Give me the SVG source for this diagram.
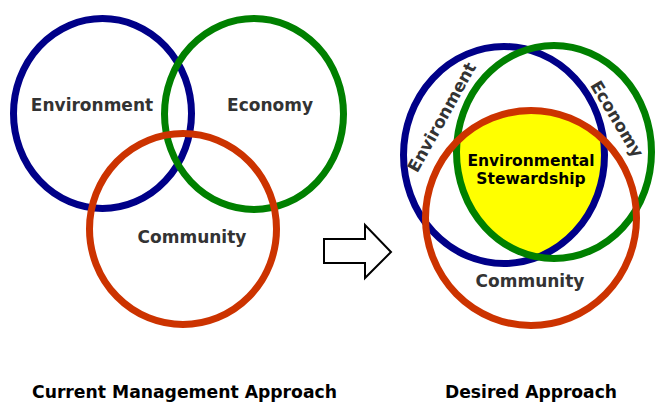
<svg xmlns="http://www.w3.org/2000/svg" width="655" height="402" viewBox="0 0 655 402">
<style>
.ring{fill:none;stroke-width:7}
.blue{stroke:#000088}
.green{stroke:#008000}
.red{stroke:#cc3300}
.lbl{font-family:"DejaVu Sans",Verdana,sans-serif;font-weight:bold;font-size:17px;fill:#333333;text-anchor:middle}
.blk{fill:#000000;font-size:15.5px}
.cap{font-family:"DejaVu Sans Condensed","DejaVu Sans",sans-serif;font-weight:bold;font-size:17px;fill:#000000;text-anchor:middle}
</style>
<defs>
<clipPath id="cB"><ellipse cx="504" cy="155" rx="101" ry="109"/></clipPath>
<clipPath id="cG"><ellipse cx="554" cy="152" rx="98" ry="107"/></clipPath>
</defs>
<rect width="655" height="402" fill="#ffffff"/>
<g id="current">
<g id="env-left"><ellipse class="ring blue" cx="102.5" cy="113.5" rx="89" ry="95"/><text class="lbl" x="92" y="111">Environment</text></g>
<g id="eco-left"><ellipse class="ring green" cx="254" cy="114" rx="89.5" ry="95.5"/><text class="lbl" x="270" y="111">Economy</text></g>
<g id="com-left"><ellipse class="ring red" cx="183" cy="229" rx="93.5" ry="95.5"/><text class="lbl" x="192" y="243">Community</text></g>
</g>
<g id="connectors">
<path d="M324,239 H365 V225 L391,252 L365,278 V263 H324 Z" fill="#ffffff" stroke="#000000" stroke-width="2" stroke-linejoin="miter"/>
</g>
<g id="desired">
<g id="stewardship"><g clip-path="url(#cB)"><g clip-path="url(#cG)"><ellipse cx="531" cy="218" rx="106" ry="108" fill="#ffff00"/></g></g></g>
<g id="env-right"><ellipse class="ring blue" cx="504" cy="155" rx="100.5" ry="108.5"/><text class="lbl" transform="translate(447,120) rotate(-61)">Environment</text></g>
<g id="eco-right"><ellipse class="ring green" cx="554" cy="152" rx="97.5" ry="106.5"/><text class="lbl" transform="translate(612,122) rotate(59)">Economy</text></g>
<g id="com-right"><ellipse class="ring red" cx="531" cy="218" rx="105.5" ry="107.5"/><text class="lbl" x="530" y="287">Community</text></g>
<text class="lbl blk" x="531" y="166">Environmental</text>
<text class="lbl blk" x="531" y="184">Stewardship</text>
</g>
<text class="cap" x="184.5" y="398" textLength="305" lengthAdjust="spacingAndGlyphs">Current Management Approach</text>
<text class="cap" x="531" y="398" textLength="172" lengthAdjust="spacingAndGlyphs">Desired Approach</text>
</svg>
